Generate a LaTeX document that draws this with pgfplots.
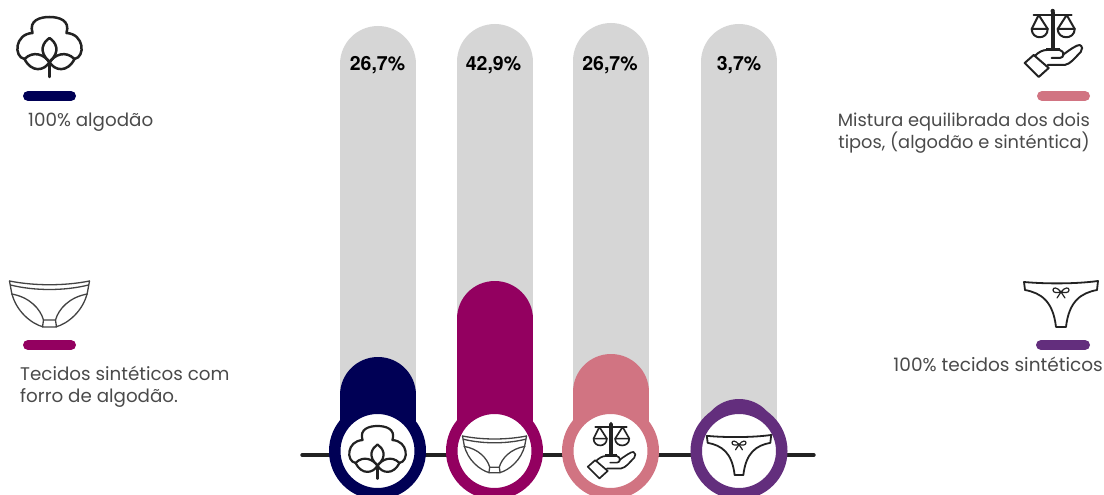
\documentclass[border=0pt]{standalone}
\usepackage{fontspec}
\usepackage{pgfplots}
\pgfplotsset{compat=1.18}
\setmainfont{Poppins}
\newfontfamily\pctfont{TeX Gyre Heros}
\definecolor{cnavy}{HTML}{000055}
\definecolor{cmag}{HTML}{930060}
\definecolor{cpink}{HTML}{D17482}
\definecolor{cpurp}{HTML}{632E7D}
\definecolor{cgray}{HTML}{D6D6D6}
\definecolor{ctext}{HTML}{4A4A4A}
\definecolor{cink}{HTML}{222222}
\newcommand{\cotton}[3]{\begin{scope}[shift={(#1,#2)},scale=#3,line width=#3*2.5pt,cink,line cap=round,line join=round]
\draw (-25,42) .. controls (-36,40) and (-35,17) .. (-17,16) .. controls (-21,3) and (-9,0) .. (0,0) .. controls (9,0) and (21,3) .. (17,16) .. controls (35,17) and (36,40) .. (25,42);
\draw (0,21) .. controls (-6,25) and (-12,34) .. (0,45) .. controls (12,34) and (6,25) .. (0,21);
\draw (0,45) .. controls (-5,38) and (-16,33) .. (-25,42) .. controls (-18,56) and (-5,54) .. (0,45);
\draw (0,45) .. controls (5,38) and (16,33) .. (25,42) .. controls (18,56) and (5,54) .. (0,45);
\draw (0,45) -- (0,60);
\end{scope}}
\newcommand{\brief}[3]{\begin{scope}[shift={(#1,#2)},scale=#3,line width=1.3pt,cink!85,line cap=round,line join=round]
\draw (-40,0) .. controls (-15,5) and (15,5) .. (40,0);
\draw (-39,4) .. controls (-15,10) and (15,10) .. (39,4);
\draw (-40,0) -- (-38,11) .. controls (-34,30) and (-18,43) .. (-6,46) -- (6,46) .. controls (18,43) and (34,30) .. (38,11) -- (40,0);
\draw (-38,13) .. controls (-20,16) and (-9,28) .. (-6,39) -- (6,39) .. controls (9,28) and (20,16) .. (38,13);
\draw (-6,39) -- (-7,46) (6,39) -- (7,46);
\end{scope}}
\newcommand{\balance}[3]{\begin{scope}[shift={(#1,#2)},scale=#3,line width=#3*2pt,cink,line cap=round,line join=round]
\draw (-19,6) -- (19,6);
\fill (-2,3) rectangle (2,40);
\fill (0,2) circle (2.2);
\fill (-7,39) rectangle (7,42);
\draw (-14,6) -- (-21,20) (-14,6) -- (-5,20);
\draw (14,6) -- (5,20) (14,6) -- (22,20);
\draw (-21,20) -- (-5,20) .. controls (-5,31) and (-21,31) .. (-21,20);
\draw (5,20) -- (22,20) .. controls (22,31) and (5,31) .. (5,20);
\draw (-28,54) -- (-19,46) -- (-4,59) -- (-14,68) -- cycle;
\draw (-18,47) .. controls (-14,43) and (-10,41) .. (-6,41) -- (7,41) .. controls (12,42) and (12,49) .. (7,49) -- (-1,49);
\draw (10,46) .. controls (18,40) and (24,36) .. (27,36) .. controls (30,37) and (30,41) .. (28,43) .. controls (22,49) and (18,55) .. (12,56) -- (-5,56);
\end{scope}}
\newcommand{\thong}[3]{\begin{scope}[shift={(#1,#2)},scale=#3,cink,line cap=round,line join=round]
\draw[line width=1.8pt] (-37,1) .. controls (-15,3) and (15,3) .. (37,0);
\draw[line width=1.8pt] (-37,1) -- (-36,9) .. controls (-20,12) and (-8,20) .. (-5,46) -- (5,46) .. controls (8,20) and (20,12) .. (36,9) -- (37,0);
\draw[line width=1.2pt] (0,11) .. controls (-4,6) and (-8,6) .. (-8,9) .. controls (-8,12) and (-4,12) .. (0,11) .. controls (4,6) and (8,6) .. (8,9) .. controls (8,12) and (4,12) .. (0,11);
\draw[line width=1.2pt] (0,11) -- (-4,17) (0,11) -- (4,17);
\end{scope}}
\begin{document}
\begin{tikzpicture}[x=1pt,y=1pt]
\begin{axis}[at={(0,0)},anchor=south west,scale only axis,width=1104pt,height=495pt,
  xmin=0,xmax=1104,ymin=0,ymax=495,y dir=reverse,hide axis,
  /tikz/line cap=round]
% background columns
\addplot[cgray,line width=76pt,no marks,line cap=round] coordinates {(378,64) (378,448)};
\addplot[cgray,line width=76pt,no marks,line cap=round] coordinates {(494.5,62) (494.5,448)};
\addplot[cgray,line width=76pt,no marks,line cap=round] coordinates {(611,61) (611,448)};
\addplot[cgray,line width=76pt,no marks,line cap=round] coordinates {(739,62) (739,448)};
% values
\addplot[cnavy,line width=76pt,no marks,line cap=round] coordinates {(378,395) (378,448)};
\addplot[cmag,line width=76pt,no marks,line cap=round] coordinates {(494.5,319) (494.5,448)};
\addplot[cpink,line width=76pt,no marks,line cap=round] coordinates {(611,392) (611,448)};
\addplot[cpurp,line width=76pt,no marks,line cap=round] coordinates {(739,437) (739,448)};
% baseline
\addplot[cink,line width=3.4pt,no marks,line cap=round] coordinates {(302,455) (814,455)};
% rings
\addplot[only marks,mark=*,mark size=42.75pt,mark options={draw=cnavy,fill=white,line width=11.5pt}] coordinates {(377.5,451)};
\addplot[only marks,mark=*,mark size=42.75pt,mark options={draw=cmag,fill=white,line width=11.5pt}] coordinates {(494.5,451)};
\addplot[only marks,mark=*,mark size=42.75pt,mark options={draw=cpink,fill=white,line width=11.5pt}] coordinates {(610.5,451)};
\addplot[only marks,mark=*,mark size=42.75pt,mark options={draw=cpurp,fill=white,line width=11.5pt}] coordinates {(739,451)};
% legend pills
\addplot[cnavy,line width=10pt,no marks,line cap=round] coordinates {(28,96) (71,96)};
\addplot[cmag,line width=10pt,no marks,line cap=round] coordinates {(28,345) (71,345)};
\addplot[cpink,line width=10pt,no marks,line cap=round] coordinates {(1042,96) (1085,96)};
\addplot[cpurp,line width=10pt,no marks,line cap=round] coordinates {(1041,345) (1085,345)};
% value labels
\node[anchor=base,font=\pctfont\bfseries\fontsize{19.5}{19.5}\selectfont] at (axis cs:377.5,71) {26,7\%};
\node[anchor=base,font=\pctfont\bfseries\fontsize{19.5}{19.5}\selectfont] at (axis cs:493.5,71) {42,9\%};
\node[anchor=base,font=\pctfont\bfseries\fontsize{19.5}{19.5}\selectfont] at (axis cs:610,71) {26,7\%};
\node[anchor=base,font=\pctfont\bfseries\fontsize{19.5}{19.5}\selectfont] at (axis cs:739,71) {3,7\%};
% legend text
\node[anchor=base west,inner sep=0,text=ctext,font=\fontsize{18.3}{18.3}\selectfont] at (axis cs:28,126) {100\% algodão};
\node[anchor=base west,inner sep=0,text=ctext,font=\fontsize{18.3}{18.3}\selectfont] at (axis cs:20,380) {Tecidos sintéticos com};
\node[anchor=base west,inner sep=0,text=ctext,font=\fontsize{18.3}{18.3}\selectfont] at (axis cs:20,402) {forro de algodão.};
\node[anchor=base east,inner sep=0,text=ctext,font=\fontsize{17.8}{17.8}\selectfont] at (axis cs:1090,126) {Mistura equilibrada dos dois};
\node[anchor=base east,inner sep=0,text=ctext,font=\fontsize{17.8}{17.8}\selectfont] at (axis cs:1090,148) {tipos, (algodão e sinténtica)};
\node[anchor=base east,inner sep=0,text=ctext,font=\fontsize{18.5}{18.5}\selectfont] at (axis cs:1103,371) {100\% tecidos sintéticos};
\end{axis}
\begin{scope}[yshift=495pt,y=-1pt,x=1pt]
\cotton{49.5}{17}{1}
\cotton{377.5}{426}{0.88}
\brief{49.5}{281}{1}
\brief{494.5}{436}{0.8}
\balance{1052.7}{9}{1}
\balance{611}{422}{0.83}
\thong{1061}{281}{1}
\thong{739}{435}{0.87}
\end{scope}
\pgfresetboundingbox
\path[use as bounding box] (0,0) rectangle (1104pt,495pt);
\end{tikzpicture}
\end{document}
